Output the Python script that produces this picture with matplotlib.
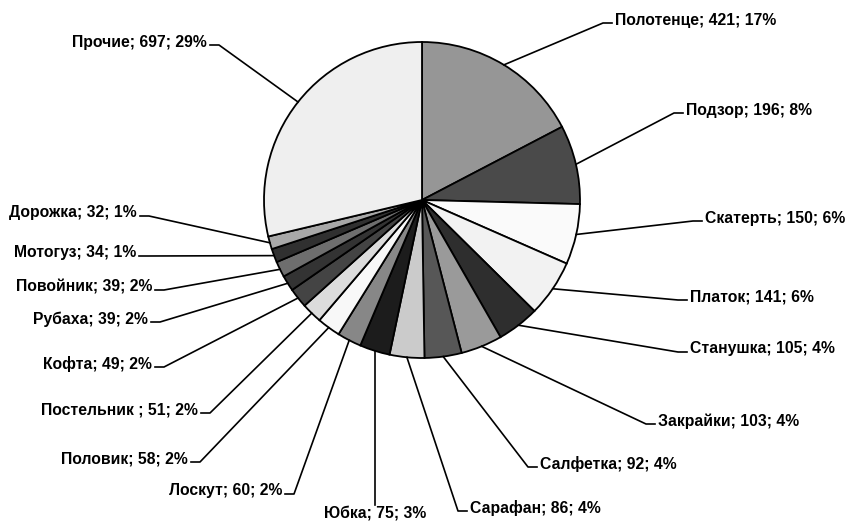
import numpy as np
import matplotlib.pyplot as plt

# Data (clockwise from 12 o'clock)
names = ["Полотенце", "Подзор", "Скатерть", "Платок", "Станушка", "Закрайки",
         "Салфетка", "Сарафан", "Юбка", "Лоскут", "Половик", "Постельник ",
         "Кофта", "Рубаха", "Повойник", "Мотогуз", "Дорожка", "Прочие"]
counts = [421, 196, 150, 141, 105, 103, 92, 86, 75, 60, 58, 51, 49, 39, 39, 34, 32, 697]
pcts = [17, 8, 6, 6, 4, 4, 4, 4, 3, 2, 2, 2, 2, 2, 2, 1, 1, 29]

colors = ["#969696", "#4a4a4a", "#fafafa", "#f2f2f2", "#2e2e2e", "#9a9a9a",
          "#575757", "#cbcbcb", "#1c1c1c", "#878787", "#f8f8f8", "#dcdcdc",
          "#444444", "#333333", "#6e6e6e", "#303030", "#a8a8a8", "#efefef"]

# label layout in pixels (x, y from top), side: 'l' = text right of line end
label_pos = [(615, 20, "l"), (686, 110, "l"), (705, 218, "l"), (690, 297, "l"),
             (690, 349, "l"), (658, 421, "l"), (540, 464, "l"), (470, 508, "l"),
             (375, 513, "b"), (282, 491, "r"), (188, 459, "r"), (198, 410, "r"),
             (152, 364, "r"), (148, 319, "r"), (152, 287, "r"), (136, 253, "r"),
             (137, 213, "r"), (207, 42, "r")]

W, H = 848, 521
cx, cy, R = 422, H - 200, 158

fig = plt.figure(figsize=(8.48, 5.21), dpi=100)
ax = fig.add_axes([0, 0, 1, 1])

wedges, _ = ax.pie(
    counts,
    colors=colors,
    startangle=90,
    counterclock=False,
    center=(cx, cy),
    radius=R,
    wedgeprops={"edgecolor": "black", "linewidth": 1.3},
    frame=True,
)
ax.set_xlim(0, W)
ax.set_ylim(0, H)
ax.axis("off")

for w, name, n, p, (tx, ty, side) in zip(wedges, names, counts, pcts, label_pos):
    mid = np.deg2rad((w.theta1 + w.theta2) / 2)
    x0 = cx + R * np.cos(mid)
    y0 = cy + R * np.sin(mid)
    ty = H - ty
    text = f"{name}; {n}; {p}%"
    if side == "b":
        ax.plot([x0, x0], [y0, ty + 8], color="black", lw=1.2)
        ax.text(tx, ty, text, ha="center", va="center", fontsize=11.3,
                fontweight="bold", family="Liberation Sans")
        continue
    sgn = 1 if side == "l" else -1
    ly = ty - 3
    ax.plot([x0, tx - sgn * 12, tx - sgn * 3], [y0, ly, ly], color="black", lw=1.2)
    ax.text(tx, ty, text, ha="left" if side == "l" else "right", va="center",
            fontsize=11.3, fontweight="bold", family="Liberation Sans")

plt.savefig("out.png", dpi=100)
